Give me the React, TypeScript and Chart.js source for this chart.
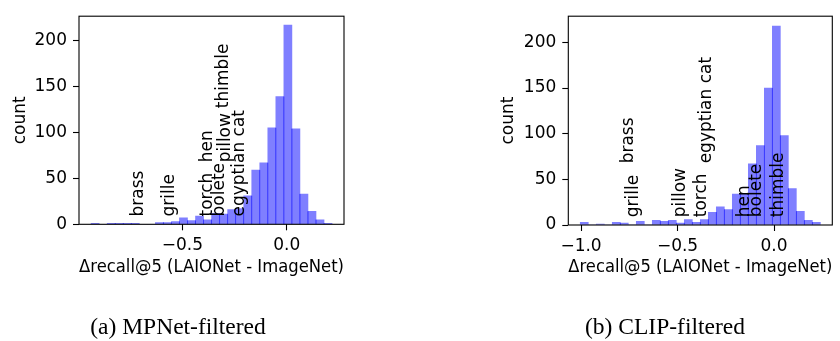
import React, { useEffect, useRef } from "react";
import { Chart, registerables } from "chart.js";
Chart.register(...registerables);

const FONT = "'DejaVu Sans', sans-serif";
const FS = 17;

// (a) MPNet-filtered histogram
const mpnetBinStart = -0.937;
const mpnetBinWidth = 0.03846;
const mpnetCounts = [1, 0, 1, 1, 1, 1, 0, 0, 2, 2, 3, 7, 4, 9, 5, 12, 11, 16, 17, 31, 59, 67, 105, 139, 217, 104, 33, 14, 5, 1];
const mpnetLabels = ["brass", "grille", "torch", "hen", "bolete", "pillow", "thimble", "egyptian cat"];
const mpnetLabelX = [-0.712, -0.559, -0.38, -0.378, -0.324, -0.291, -0.303, -0.227];
const mpnetLabelY = [8.5, 8.5, 8.5, 67.5, 8.5, 67.5, 126.5, 8.5];
const mpnetXTicks = [-0.5, 0];
const mpnetXRange = [-0.995, 0.274];
const mpnetYMax = 226.7;

// (b) CLIP-filtered histogram
const clipBinStart = -1.004;
const clipBinWidth = 0.04147;
const clipCounts = [3, 0, 1, 0, 3, 2, 0, 4, 0, 5, 4, 5, 2, 6, 3, 6, 14, 20, 17, 34, 34, 67, 87, 150, 218, 98, 40, 15, 5, 3];
const clipLabels = ["brass", "grille", "pillow", "torch", "egyptian cat", "hen", "bolete", "thimble"];
const clipLabelX = [-0.755, -0.728, -0.482, -0.373, -0.349, -0.155, -0.09, 0.022];
const clipLabelY = [67.5, 8.5, 8.5, 8.5, 67.5, 8.5, 8.5, 8.5];
const clipXTicks = [-1, -0.5, 0];
const clipXRange = [-1.066, 0.302];
const clipYMax = 228.7;

const yTicks = [0, 50, 100, 150, 200];
const xTitle = "Δrecall@5 (LAIONet - ImageNet)";
const yTitle = "count";

function fmtX(v: number) {
  const s = Math.abs(v).toFixed(1);
  return v < 0 ? "\u2212" + s : s;
}

type HistProps = {
  counts: number[];
  binStart: number;
  binWidth: number;
  labels: string[];
  labelX: number[];
  labelY: number[];
  xTicks: number[];
  xRange: number[];
  yMax: number;
  padLeft: number;
  padRight: number;
  padTop: number;
  yAxisWidth: number;
  xAxisHeight: number;
  xTitlePad: number;
  yTitlePad: number;
  left: number;
};

function Hist(p: HistProps) {
  const ref = useRef<HTMLCanvasElement>(null);
  useEffect(() => {
    if (!ref.current) return;
    const data = p.counts.map((c, i) => ({ x: p.binStart + (i + 0.5) * p.binWidth, y: c }));
    const tickFont = { family: FONT, size: FS };
    const chart = new Chart(ref.current, {
      type: "bar",
      data: {
        datasets: [
          {
            data: data as any,
            backgroundColor: "rgba(0,0,255,0.5)",
            borderWidth: 0,
            barPercentage: 1,
            categoryPercentage: 1,
          },
        ],
      },
      options: {
        animation: false,
        responsive: false,
        maintainAspectRatio: false,
        layout: { padding: { left: p.padLeft, right: p.padRight, top: p.padTop, bottom: 0 } },
        plugins: { legend: { display: false }, tooltip: { enabled: false } },
        scales: {
          x: {
            type: "linear",
            min: p.xRange[0],
            max: p.xRange[1],
            offset: false,
            afterBuildTicks: (s: any) => {
              s.ticks = p.xTicks.map((v) => ({ value: v }));
            },
            afterFit: (s: any) => {
              s.height = p.xAxisHeight;
            },
            ticks: {
              font: tickFont,
              color: "#000",
              padding: 5,
              maxRotation: 0,
              autoSkip: false,
              callback: (v: any) => fmtX(Number(v)),
            },
            grid: {
              display: true,
              drawOnChartArea: false,
              drawTicks: true,
              tickLength: 6,
              tickWidth: 1.1,
              tickColor: "#000",
              offset: false,
            },
            border: { display: false },
            title: {
              display: true,
              text: xTitle,
              font: tickFont,
              color: "#000",
              padding: { top: 0, bottom: p.xTitlePad },
            },
          },
          y: {
            type: "linear",
            min: 0,
            max: p.yMax,
            afterBuildTicks: (s: any) => {
              s.ticks = yTicks.map((v) => ({ value: v }));
            },
            afterFit: (s: any) => {
              s.width = p.yAxisWidth;
            },
            ticks: {
              font: tickFont,
              color: "#000",
              padding: 6,
              callback: (v: any) => String(v),
            },
            grid: {
              display: true,
              drawOnChartArea: false,
              drawTicks: true,
              tickLength: 6,
              tickWidth: 1.1,
              tickColor: "#000",
            },
            border: { display: false },
            title: {
              display: true,
              text: yTitle,
              font: tickFont,
              color: "#000",
              padding: { top: p.yTitlePad, bottom: 0 },
            },
          },
        },
      },
      plugins: [
        {
          id: "edgesAndLabels",
          afterDatasetsDraw: (c: any) => {
            const ctx = c.ctx;
            const xs = c.scales.x;
            const ys = c.scales.y;
            ctx.save();
            ctx.strokeStyle = "rgba(0,0,255,0.35)";
            ctx.lineWidth = 1;
            for (let i = 0; i < p.counts.length - 1; i++) {
              const h = Math.min(p.counts[i], p.counts[i + 1]);
              if (h <= 0) continue;
              const x = xs.getPixelForValue(p.binStart + (i + 1) * p.binWidth);
              ctx.beginPath();
              ctx.moveTo(x, ys.getPixelForValue(0));
              ctx.lineTo(x, ys.getPixelForValue(h));
              ctx.stroke();
            }
            ctx.fillStyle = "#000";
            ctx.font = `${FS}px ${FONT}`;
            ctx.textAlign = "left";
            ctx.textBaseline = "middle";
            p.labels.forEach((t, i) => {
              const px = xs.getPixelForValue(p.labelX[i]);
              const py = ys.getPixelForValue(p.labelY[i]);
              ctx.save();
              ctx.translate(px, py);
              ctx.rotate(-Math.PI / 2);
              ctx.fillText(t, 0, 0);
              ctx.restore();
            });
            ctx.restore();
          },
          afterDraw: (c: any) => {
            const { left, top, right, bottom } = c.chartArea;
            const ctx = c.ctx;
            ctx.save();
            ctx.strokeStyle = "#000";
            ctx.lineWidth = 1.1;
            ctx.strokeRect(left, top, right - left, bottom - top);
            ctx.restore();
          },
        },
      ],
    });
    return () => chart.destroy();
  }, []);
  return (
    <canvas
      ref={ref}
      width={420}
      height={341}
      style={{ position: "absolute", left: p.left, top: 0, width: 420, height: 341 }}
    />
  );
}

const captionStyle: React.CSSProperties = {
  position: "absolute",
  width: 300,
  textAlign: "center",
  fontFamily: "'Liberation Serif', 'Times New Roman', serif",
  fontSize: 23.5,
  lineHeight: "23.5px",
  color: "#000",
  whiteSpace: "nowrap",
};

export default function App() {
  return (
    <div style={{ position: "absolute", left: 0, top: 0, width: 840, height: 341, background: "#fff", overflow: "hidden" }}>
      <Hist
        counts={mpnetCounts}
        binStart={mpnetBinStart}
        binWidth={mpnetBinWidth}
        labels={mpnetLabels}
        labelX={mpnetLabelX}
        labelY={mpnetLabelY}
        xTicks={mpnetXTicks}
        xRange={mpnetXRange}
        yMax={mpnetYMax}
        padLeft={0}
        padRight={76}
        padTop={12.7}
        yAxisWidth={79}
        xAxisHeight={341 - 224.3}
        xTitlePad={63.3}
        yTitlePad={10}
        left={0}
      />
      <Hist
        counts={clipCounts}
        binStart={clipBinStart}
        binWidth={clipBinWidth}
        labels={clipLabels}
        labelX={clipLabelX}
        labelY={clipLabelY}
        xTicks={clipXTicks}
        xRange={clipXRange}
        yMax={clipYMax}
        padLeft={68.7}
        padRight={7.7}
        padTop={12.7}
        yAxisWidth={79.6}
        xAxisHeight={341 - 225}
        xTitlePad={63.3}
        yTitlePad={10}
        left={420}
      />
      <div style={{ ...captionStyle, left: 178 - 150, top: 315.3 }}>(a) MPNet-filtered</div>
      <div style={{ ...captionStyle, left: 665 - 150, top: 315.3 }}>(b) CLIP-filtered</div>
    </div>
  );
}
